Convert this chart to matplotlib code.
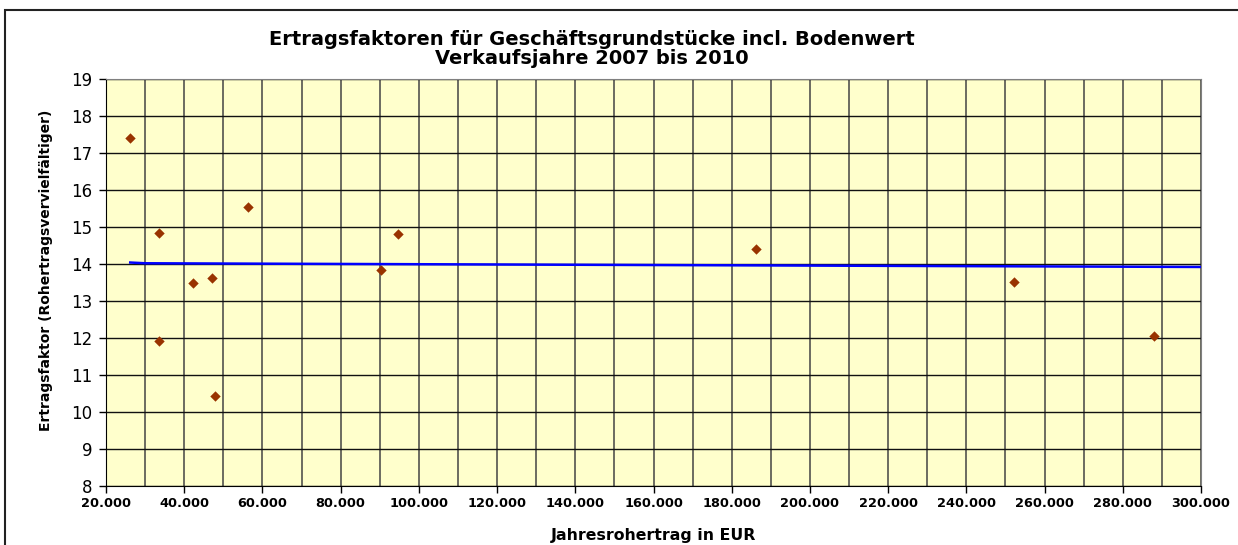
import numpy as np
import matplotlib.pyplot as plt
import matplotlib.ticker as mticker
from matplotlib.patches import Rectangle

plt.rcParams['font.family'] = ['DejaVu Sans']

# Jahresrohertrag (EUR) und Ertragsfaktor der Verkaeufe
rohertrag = [26200, 33500, 33500, 42200, 47200, 47900, 56200, 90300, 94700, 186100, 252300, 288000]
faktor = [17.4, 14.83, 11.93, 13.48, 13.62, 10.42, 15.54, 13.84, 14.8, 14.4, 13.52, 12.05]

# Trendlinie
trend_x = [26200, 30000, 300000]
trend_y = [14.04, 14.02, 13.92]

title = 'Ertragsfaktoren für Geschäftsgrundstücke incl. Bodenwert\nVerkaufsjahre 2007 bis 2010'
xlabel = 'Jahresrohertrag in EUR'
ylabel = 'Ertragsfaktor (Rohertragsvervielfältiger)'

fig = plt.figure(figsize=(12.38, 5.45), dpi=100)
ax = fig.add_axes([106 / 1238, 1 - 486 / 545, (1201 - 106) / 1238, (486 - 79) / 545])
ax.set_facecolor('#FFFFCC')

ax.scatter(rohertrag, faktor, marker='D', s=28, color='#993300', zorder=3, linewidths=0)
ax.plot(trend_x, trend_y, color='#0000FF', lw=1.8, zorder=4)

ax.set_xlim(20000, 300000)
ax.set_ylim(8, 19)
ax.xaxis.set_major_locator(mticker.MultipleLocator(20000))
ax.xaxis.set_minor_locator(mticker.MultipleLocator(10000))
ax.yaxis.set_major_locator(mticker.MultipleLocator(1))
ax.xaxis.set_major_formatter(mticker.FuncFormatter(lambda v, _: f'{int(v):,}'.replace(',', '.')))

ax.grid(True, which='both', axis='x', color='#444444', lw=1.1)
ax.grid(True, which='major', axis='y', color='#111111', lw=1)
ax.set_axisbelow(True)

ax.tick_params(axis='x', which='major', direction='out', length=5, width=1, labelsize=9.3, pad=3)
ax.tick_params(axis='x', which='minor', length=0)
ax.tick_params(axis='y', direction='out', length=5, width=1, labelsize=12, pad=5)
for lbl in ax.get_xticklabels():
    lbl.set_fontweight('bold')

for side in ['top', 'right']:
    ax.spines[side].set_color('#808080')
for side in ['left', 'bottom']:
    ax.spines[side].set_color('#000000')

ax.set_xlabel(xlabel, fontsize=11.3, fontweight='bold', labelpad=13)
ax.set_ylabel(ylabel, fontsize=10, fontweight='bold')
ax.yaxis.set_label_coords(-0.048, 0.53)

fig.text(0.478, 1 - 49 / 545, title, ha='center', va='center', fontsize=14, fontweight='bold',
         linespacing=0.95)

fig.patches.append(Rectangle((5 / 1238, -0.05), 1.2, 1 - 10 / 545 + 0.05, transform=fig.transFigure,
                             fill=False, edgecolor='#222222', lw=1.5))

fig.savefig('out.png', dpi=100)
